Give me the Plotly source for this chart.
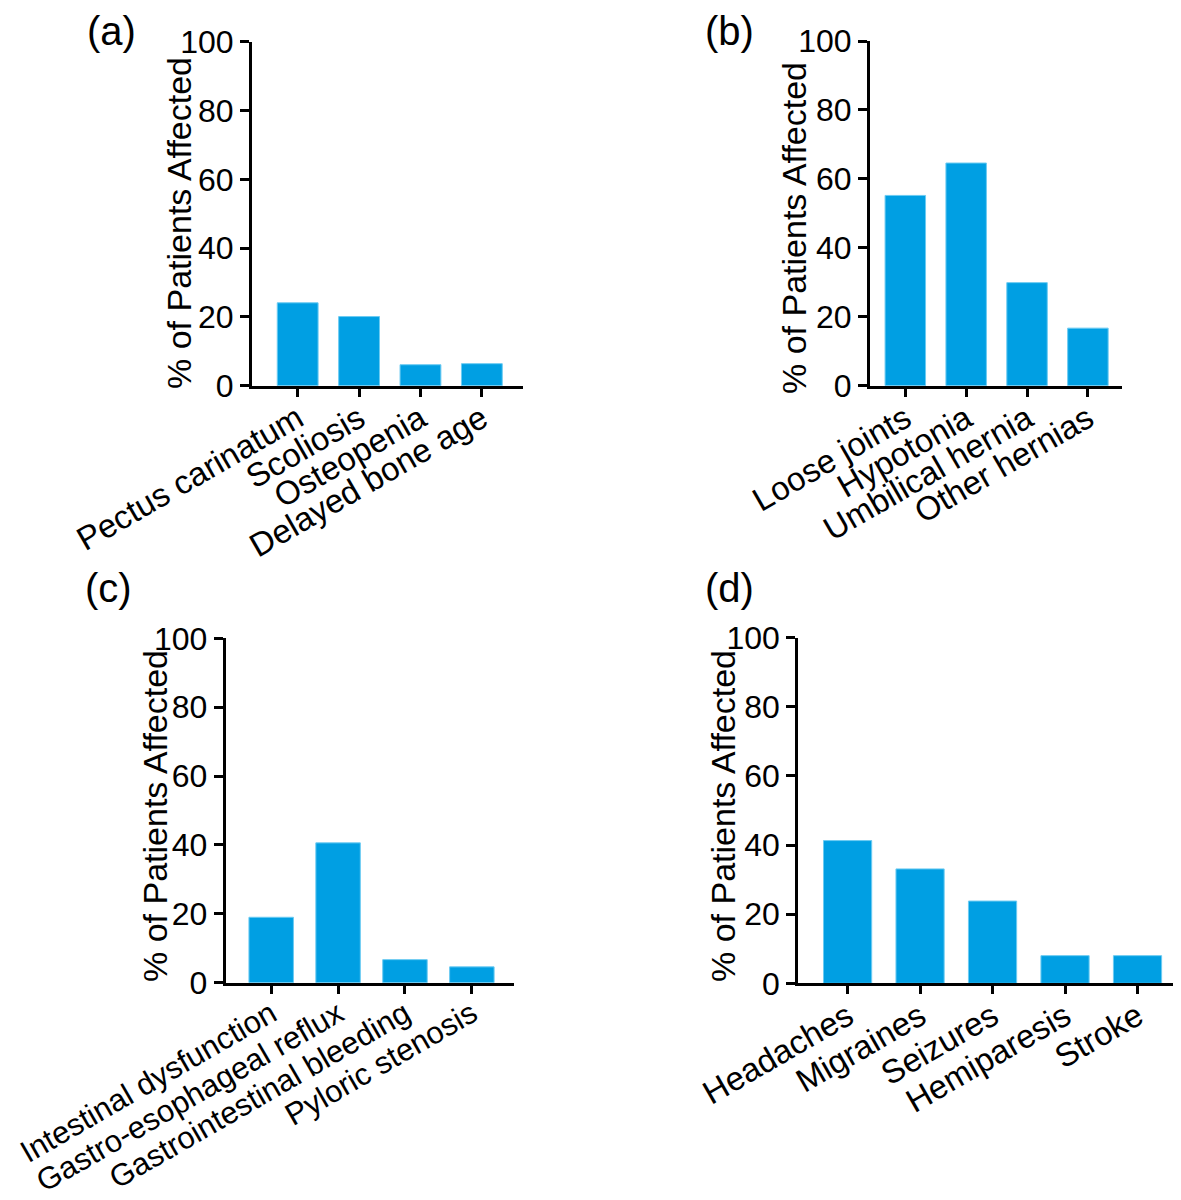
import plotly.graph_objects as go

# page body adds an 8px margin, so the figure is 8px smaller on each axis
OFF = 8
W, H = 1181 - OFF, 1200 - OFF

# ---- data ----
cats_a = ["Pectus carinatum", "Scoliosis", "Osteopenia", "Delayed bone age"]
vals_a = [24.1, 20.1, 6.1, 6.4]

cats_b = ["Loose joints", "Hypotonia", "Umbilical hernia", "Other hernias"]
vals_b = [55.2, 64.6, 29.9, 16.7]

cats_c = ["Intestinal dysfunction", "Gastro-esophageal reflux",
          "Gastrointestinal bleeding", "Pyloric stenosis"]
vals_c = [19.0, 40.6, 6.7, 4.6]

cats_d = ["Headaches", "Migraines", "Seizures", "Hemiparesis", "Stroke"]
vals_d = [41.3, 33.1, 23.8, 8.0, 8.0]

y_ticks = [0, 20, 40, 60, 80, 100]
panel_labels = ["(a)", "(b)", "(c)", "(d)"]
y_title = "% of Patients Affected"

BAR = "#009FE3"
FONT = "Arial, Liberation Sans, sans-serif"


def px_x(px):
    return (px - OFF) / W


def px_y(py):
    return 1 - (py - OFF) / H


# panel geometry in page pixels: (x0, x1, ytop, ybottom), category range,
# category label font size
panels = [
    (cats_a, vals_a, (252, 523, 41.7, 385.7), [-0.744, 3.67], 33),
    (cats_b, vals_b, (870, 1122, 41.0, 385.7), [-0.58, 3.56], 33),
    (cats_c, vals_c, (225.7, 514, 638.3, 982.7), [-0.68, 3.63], 31),
    (cats_d, vals_d, (798.3, 1181, 637.7, 983.3), [-0.68, 4.6], 33),
]
label_pos = [(111, 31), (729, 31), (108, 588), (729, 588)]
title_pos = [(179, 223), (794, 228), (155, 816), (723, 816)]

fig = go.Figure()
for i, (cats, vals, (x0, x1, yt, yb), xr, cfs) in enumerate(panels):
    n = "" if i == 0 else str(i + 1)
    fig.add_trace(go.Bar(
        x=cats, y=vals, width=0.665,
        marker=dict(color=BAR, line=dict(color="#6CCBF2", width=1)),
        xaxis="x" + n, yaxis="y" + n, showlegend=False,
    ))
    fig.layout["xaxis" + n] = dict(
        domain=[px_x(x0), min(1.0, px_x(x1))], anchor="y" + n, type="category",
        range=xr, showline=True, linecolor="black", linewidth=3,
        ticks="outside", ticklen=8, tickwidth=3, tickcolor="black",
        tickangle=-30, ticklabelstandoff=-10,
        tickfont=dict(family=FONT, size=cfs, color="black"),
        showgrid=False, zeroline=False, fixedrange=True, automargin=False,
    )
    fig.layout["yaxis" + n] = dict(
        domain=[px_y(yb), px_y(yt)], anchor="x" + n,
        range=[0, 100], tickvals=y_ticks, showline=True, linecolor="black",
        linewidth=3, ticks="outside", ticklen=9, tickwidth=3, tickcolor="black",
        tickfont=dict(family=FONT, size=32, color="black"),
        showgrid=False, zeroline=False, fixedrange=True, automargin=False,
    )
    lx, ly = label_pos[i]
    fig.add_annotation(text=panel_labels[i], x=px_x(lx), y=px_y(ly),
                       xref="paper", yref="paper", showarrow=False,
                       xanchor="center", yanchor="middle",
                       font=dict(family=FONT, size=40, color="black"))
    tx, ty = title_pos[i]
    fig.add_annotation(text=y_title, x=px_x(tx), y=px_y(ty),
                       xref="paper", yref="paper", showarrow=False,
                       textangle=-90, xanchor="center", yanchor="middle",
                       font=dict(family=FONT, size=34, color="black"))

fig.update_layout(
    width=W, height=H, margin=dict(l=0, r=0, t=0, b=0, autoexpand=False),
    paper_bgcolor="white", plot_bgcolor="white", bargap=0.33,
)
fig.write_html("out.html")
